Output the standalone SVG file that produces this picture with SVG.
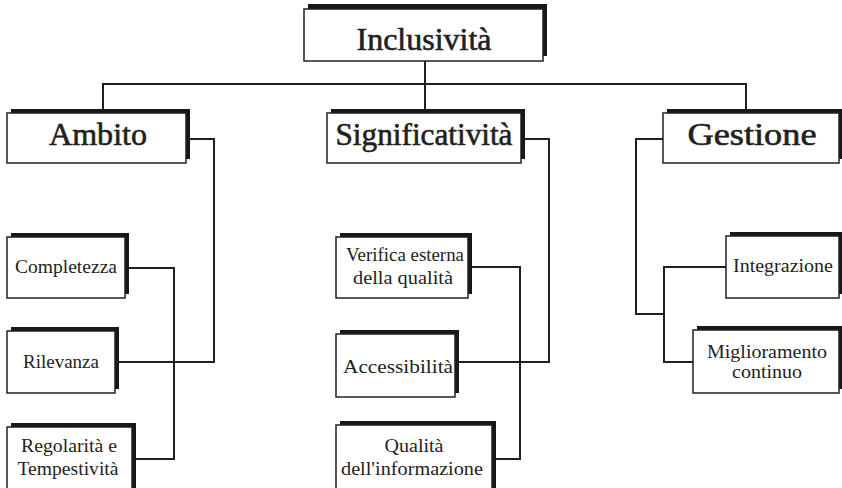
<svg xmlns="http://www.w3.org/2000/svg" width="842" height="488" viewBox="0 0 842 488">
<defs>
<style>
.sh{fill:#1a1718;}
.bx{fill:#fff;stroke:#231f20;stroke-width:1.5;}
.ln{fill:none;stroke:#231f20;stroke-width:2;}
.t1{font-family:"Liberation Serif","Times New Roman",serif;font-size:31px;font-weight:normal;fill:#231f20;stroke:#231f20;stroke-width:0.6;text-anchor:middle;}
.t2{font-family:"Liberation Serif","Times New Roman",serif;font-size:19px;fill:#231f20;text-anchor:middle;}
</style>
</defs>
<rect width="842" height="488" fill="#fff"/>
<g id="connectors">
<path class="ln" d="M103,112 V84 H746 V112"/>
<path class="ln" d="M425,60 V112"/>
<path class="ln" d="M186,139 H214 V362 H115"/>
<path class="ln" d="M125,268 H174 V459 H132"/>
<path class="ln" d="M521,139 H549 V362 H455"/>
<path class="ln" d="M468,267 H520 V459 H492"/>
<path class="ln" d="M663,139 H636 V314 H664"/>
<path class="ln" d="M726,267 H664 V362 H693"/>
</g>
<g id="inclusivita">
<rect class="sh" x="308" y="4" width="239" height="52"/>
<rect class="bx" x="304" y="9" width="239" height="52"/>
<text class="t1" x="424" y="50" textLength="135" lengthAdjust="spacingAndGlyphs">Inclusività</text>
</g>
<g id="ambito">
<rect class="sh" x="11" y="109" width="179" height="50"/>
<rect class="bx" x="7" y="113" width="179" height="50"/>
<text class="t1" x="98" y="145" textLength="98" lengthAdjust="spacingAndGlyphs">Ambito</text>
</g>
<g id="significativita">
<rect class="sh" x="331" y="109" width="194" height="50"/>
<rect class="bx" x="327" y="113" width="194" height="50"/>
<text class="t1" x="424" y="145" textLength="177" lengthAdjust="spacingAndGlyphs">Significatività</text>
</g>
<g id="gestione">
<rect class="sh" x="667" y="109" width="176" height="50"/>
<rect class="bx" x="663" y="113" width="176" height="50"/>
<text class="t1" x="752" y="145" textLength="129" lengthAdjust="spacingAndGlyphs">Gestione</text>
</g>
<g id="completezza">
<rect class="sh" x="11" y="233" width="118" height="61"/>
<rect class="bx" x="7" y="237" width="118" height="61"/>
<text class="t2" x="66" y="273" textLength="102" lengthAdjust="spacingAndGlyphs">Completezza</text>
</g>
<g id="rilevanza">
<rect class="sh" x="11" y="327" width="108" height="62"/>
<rect class="bx" x="7" y="331" width="108" height="62"/>
<text class="t2" x="61" y="368" textLength="76" lengthAdjust="spacingAndGlyphs">Rilevanza</text>
</g>
<g id="regolarita">
<rect class="sh" x="11" y="423" width="125" height="70"/>
<rect class="bx" x="7" y="427" width="125" height="70"/>
<text class="t2" x="69" y="452" textLength="96" lengthAdjust="spacingAndGlyphs">Regolarità e</text>
<text class="t2" x="68" y="475" textLength="101" lengthAdjust="spacingAndGlyphs">Tempestività</text>
</g>
<g id="verifica">
<rect class="sh" x="340" y="233" width="132" height="61"/>
<rect class="bx" x="336" y="237" width="132" height="61"/>
<text class="t2" x="405" y="261" textLength="118" lengthAdjust="spacingAndGlyphs">Verifica esterna</text>
<text class="t2" x="403" y="284" textLength="100" lengthAdjust="spacingAndGlyphs">della qualità</text>
</g>
<g id="accessibilita">
<rect class="sh" x="340" y="330" width="119" height="63"/>
<rect class="bx" x="336" y="334" width="119" height="63"/>
<text class="t2" x="398" y="373" textLength="110" lengthAdjust="spacingAndGlyphs">Accessibilità</text>
</g>
<g id="qualita">
<rect class="sh" x="340" y="421" width="156" height="70"/>
<rect class="bx" x="336" y="425" width="156" height="70"/>
<text class="t2" x="414" y="452" textLength="59" lengthAdjust="spacingAndGlyphs">Qualità</text>
<text class="t2" x="412" y="475" textLength="142" lengthAdjust="spacingAndGlyphs">dell'informazione</text>
</g>
<g id="integrazione">
<rect class="sh" x="730" y="232" width="113" height="62"/>
<rect class="bx" x="726" y="236" width="113" height="62"/>
<text class="t2" x="783" y="272" textLength="100" lengthAdjust="spacingAndGlyphs">Integrazione</text>
</g>
<g id="miglioramento">
<rect class="sh" x="697" y="326" width="146" height="63"/>
<rect class="bx" x="693" y="330" width="146" height="63"/>
<text class="t2" x="767" y="358" textLength="120" lengthAdjust="spacingAndGlyphs">Miglioramento</text>
<text class="t2" x="767" y="378" textLength="70" lengthAdjust="spacingAndGlyphs">continuo</text>
</g>
</svg>
